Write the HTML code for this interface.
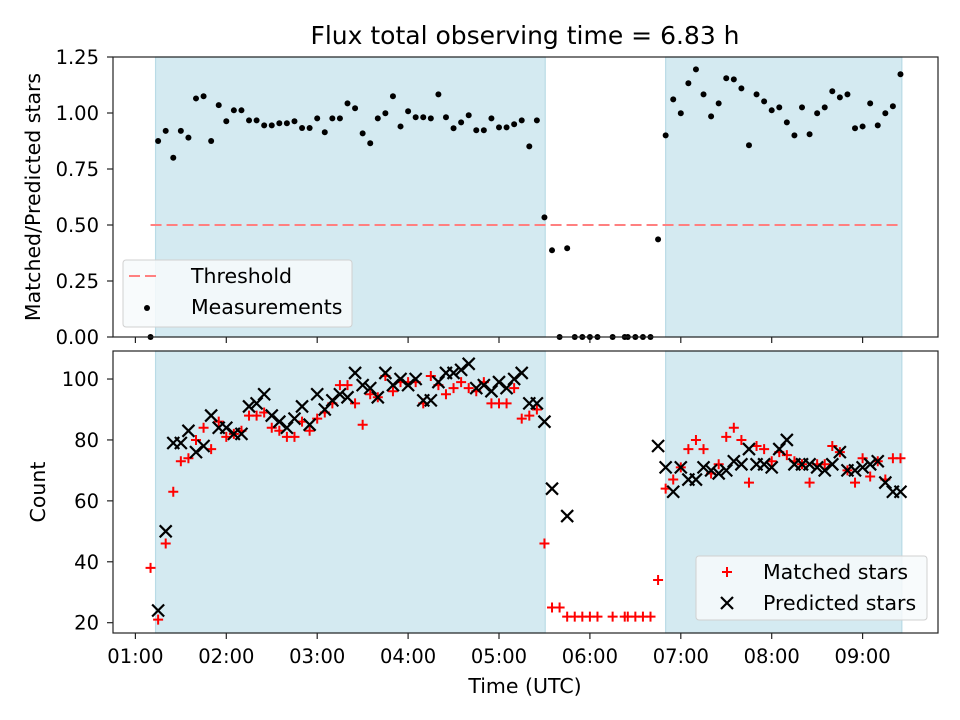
<!DOCTYPE html>
<html><head><meta charset="utf-8"><style>
html,body{margin:0;padding:0;background:#fff;}
svg{display:block;font-family:"DejaVu Sans","Liberation Sans",sans-serif;}
</style></head><body>
<svg id="fig" width="960" height="720" viewBox="0 0 960 720" xmlns="http://www.w3.org/2000/svg">
<rect width="960" height="720" fill="#fff"/>
<text x="525" y="44" font-size="25" text-anchor="middle" fill="#000">Flux total observing time = 6.83 h</text>
<g id="topAxes"></g><g id="botAxes"></g>
<text transform="translate(40,197) rotate(-90)" font-size="20.5" text-anchor="middle">Matched/Predicted stars</text>
<text transform="translate(45,492) rotate(-90)" font-size="20.5" text-anchor="middle">Count</text>
<text x="525" y="693" font-size="20.5" text-anchor="middle">Time (UTC)</text>
</svg>
<script>
// data: times in minutes since 00:00 UTC
const times=[70,75,80,85,90,95,100,105,110,115,120,125,130,135,140,145,150,155,160,165,170,175,180,185,190,195,200,205,210,215,220,225,230,235,240,245,250,255,260,265,270,275,280,285,290,295,300,305,310,315,320,325,330,335,340,345,350,355,360,365,375,383,385,390,395,400,405,410,415,420,425,430,435,440,445,450,455,460,465,470,475,480,485,490,495,500,505,510,515,520,525,530,535,540,545,550,555,560,565];
const ratios=[0,.875,.92,.80,.92,.89,1.065,1.075,.875,1.035,.963,1.012,1.012,.967,.967,.945,.945,.954,.954,.963,.933,.933,.976,.914,.976,.976,1.043,1.021,.909,.865,.976,.999,1.075,.94,1.008,.981,.981,.976,1.083,.981,.932,.958,.99,.923,.923,.976,.936,.936,.95,.967,.851,.967,.534,.387,0,.396,0,0,0,0,0,0,0,0,0,0,.436,.90,1.061,.999,1.133,1.195,1.083,.985,1.043,1.155,1.15,1.11,.856,1.083,1.052,1.012,1.025,.958,.90,1.025,.905,.999,1.025,1.097,1.07,1.083,.932,.94,1.043,.945,.999,1.03,1.173];
const matched=[38,21,46,63,73,74,80,84,77,86,81,82,83,88,88,89,84,83,81,81,86,83,87,89,92,98,98,92,85,95,94,101,96,99,99,99,92,101,98,95,97,99,97,96,99,92,92,92,97,87,88,90,46,25,25,22,22,22,22,22,22,22,22,22,22,22,34,64,67,71,77,80,77,69,72,81,84,80,66,78,77,73,76,75,73,72,66,72,72,78,76,70,66,74,68,73,67,74,74];
const predicted=[null,24,50,79,79,83,76,78,88,84,84,82,82,91,92,95,88,86,84,87,91,85,95,90,93,95,94,102,98,97,94,102,98,100,98,100,93,93,99,102,102,103,105,97,98,96,99,97,100,102,92,92,86,64,null,55,null,null,null,null,null,null,null,null,null,null,78,71,63,71,67,67,71,70,69,70,73,72,77,72,72,71,77,80,72,72,72,71,70,72,76,70,70,71,72,73,66,63,63];
const spans=[[73.3,330.5],[410,565.9]];
const threshold=0.5;
const xTickLabels=["01:00","02:00","03:00","04:00","05:00","06:00","07:00","08:00","09:00"];
const topTicks=[0,0.25,0.5,0.75,1.0,1.25];
const botTicks=[20,40,60,80,100];

const NS="http://www.w3.org/2000/svg";
const L=113,R=938;
const xs=m=>135.4+(m/60-1)*90.9;
const yTop=v=>337-v*224;
const yBot=v=>622.7-(v-20)*3.046;
function mk(tag,attrs,parent){const e=document.createElementNS(NS,tag);for(const k in attrs)e.setAttribute(k,attrs[k]);parent.appendChild(e);return e;}
const gTop=document.getElementById('topAxes'),gBot=document.getElementById('botAxes');

function axes(g,y0,y1,yf,ticks,fmt,prefix){
  spans.forEach((s,i)=>{const r=mk('rect',{x:xs(s[0]),y:y0,width:xs(s[1])-xs(s[0]),height:y1-y0,fill:'#d4eaf1',stroke:'#b9dbe6','stroke-width':1.2},g);
    
    });
  ticks.forEach(t=>{const y=yf(t);
    const l=mk('line',{x1:L-6,x2:L,y1:y,y2:y,stroke:'#222','stroke-width':1.2},g);
    
    
    const tx=mk('text',{x:L-14,y:y+7,'font-size':19.5,'text-anchor':'end'},g);tx.textContent=fmt(t);
    
    });
  xTickLabels.forEach((lab,i)=>{const x=xs((i+1)*60);
    const l=mk('line',{x1:x,x2:x,y1:y1,y2:y1+6,stroke:'#222','stroke-width':1.2},g);
    
    
    if(prefix==='bot'){const tx=mk('text',{x:x,y:663,'font-size':19.5,'text-anchor':'middle'},g);tx.textContent=lab;
      
      }});
}
axes(gTop,57,337,yTop,topTicks,v=>v.toFixed(2),'top');
axes(gBot,351,633,yBot,botTicks,v=>String(v),'bot');

const th=mk('line',{x1:xs(70),x2:xs(565.9),y1:yTop(threshold),y2:yTop(threshold),stroke:'#ff8080','stroke-width':2,'stroke-dasharray':'11,5'},gTop);


times.forEach((t,i)=>{const c=mk('circle',{cx:xs(t),cy:yTop(ratios[i]),r:3,fill:'#000'},gTop);
  
  });
times.forEach((t,i)=>{const x=xs(t),y=yBot(matched[i]);
  const p=mk('path',{d:`M${x-5} ${y}H${x+5}M${x} ${y-5}V${y+5}`,stroke:'#f00','stroke-width':2,fill:'none'},gBot);
  
  });
times.forEach((t,i)=>{if(predicted[i]==null)return;const x=xs(t),y=yBot(predicted[i]);
  const p=mk('path',{d:`M${x-6} ${y-6}L${x+6} ${y+6}M${x-6} ${y+6}L${x+6} ${y-6}`,stroke:'#000','stroke-width':2.2,fill:'none'},gBot);
  
  });
[[gTop,57,337],[gBot,351,633]].forEach(a=>{const r=mk('rect',{x:L,y:a[1],width:R-L,height:a[2]-a[1],fill:'none',stroke:'#222','stroke-width':1.2},a[0]);
  
  });

function legend(g,x,y,w,h,name){const r=mk('rect',{x:x,y:y,width:w,height:h,rx:3,fill:'#f7fafc','fill-opacity':0.85,stroke:'#d0d0d0','stroke-width':1},g);
  
  }
legend(gTop,123,260,229,67,'top-legend');
const ll=mk('line',{x1:129,x2:159,y1:276,y2:276,stroke:'#ff8080','stroke-width':2,'stroke-dasharray':'11,5'},gTop);


let t1=mk('text',{x:191,y:283,'font-size':20.5},gTop);t1.textContent='Threshold';


const lc=mk('circle',{cx:147,cy:308,r:3,fill:'#000'},gTop);


let t2=mk('text',{x:191,y:314,'font-size':20.5},gTop);t2.textContent='Measurements';



legend(gBot,696,556,231,64,'bottom-legend');
const lp=mk('path',{d:'M722 572H732M727 567V577',stroke:'#f00','stroke-width':2,fill:'none'},gBot);


let t3=mk('text',{x:763,y:579,'font-size':20.5},gBot);t3.textContent='Matched stars';


const lx=mk('path',{d:'M721 597L733 609M721 609L733 597',stroke:'#000','stroke-width':2.2,fill:'none'},gBot);


let t4=mk('text',{x:763,y:610,'font-size':20.5},gBot);t4.textContent='Predicted stars';


</script>
</body></html>
